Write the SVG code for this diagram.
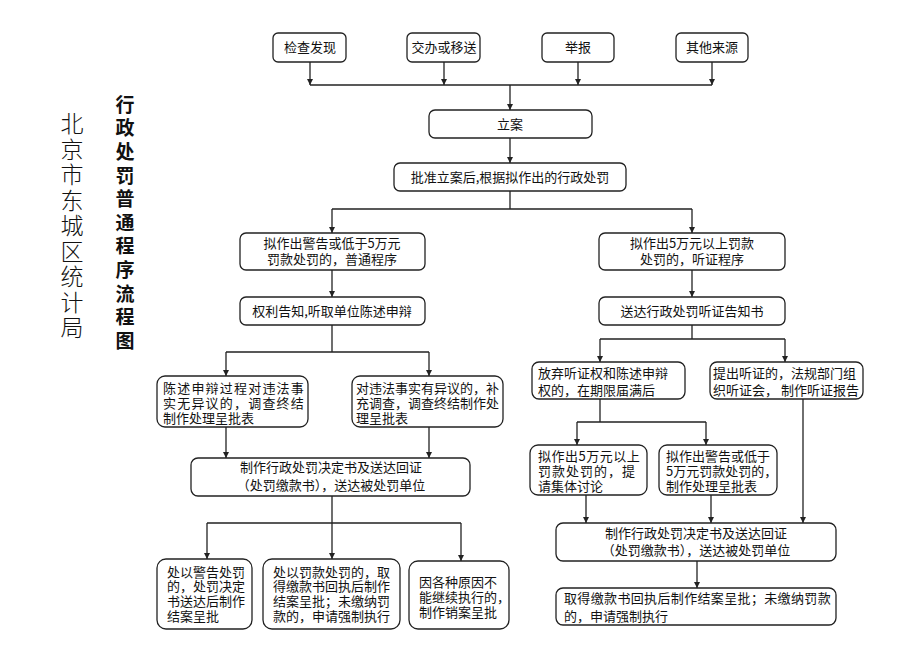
<svg xmlns="http://www.w3.org/2000/svg" width="900" height="653" viewBox="0 0 900 653">
<style>
.bg{fill:#fff}
.box{fill:#fff;stroke:#222;stroke-width:1.3}
.t{font-family:"Noto Sans CJK SC","Noto Sans",sans-serif;font-size:13px;fill:#111}
.c{text-anchor:middle}
.ln{fill:none;stroke:#222;stroke-width:1.3}
.ar{fill:none;stroke:#222;stroke-width:1.3;marker-end:url(#ah)}
.title1{font-family:"Noto Sans CJK SC",sans-serif;font-size:23px;fill:#111;font-weight:300;writing-mode:vertical-rl;letter-spacing:2.5px}
.title2{font-family:"Noto Sans CJK SC",sans-serif;font-size:19px;fill:#111;font-weight:bold;writing-mode:vertical-rl;letter-spacing:4.6px}
</style>
<defs>
<marker id="ah" viewBox="0 0 8 8" refX="8" refY="4" markerWidth="6" markerHeight="6" markerUnits="userSpaceOnUse" orient="auto">
<path d="M0,0 L8,4 L0,8 z" fill="#222"/>
</marker>
</defs>
<rect class="bg" x="0" y="0" width="900" height="653"/>

<g id="title-bureau">
<text class="title1" x="72" y="112">北京市东城区统计局</text>
</g>
<g id="title-flow">
<text class="title2" x="125" y="95">行政处罚普通程序流程图</text>
</g>

<g id="connectors">
<path class="ar" d="M310,62 V85"/>
<path class="ar" d="M444,62 V85"/>
<path class="ar" d="M578,62 V85"/>
<path class="ar" d="M712,62 V85"/>
<path class="ln" d="M310,85 H712"/>
<path class="ar" d="M510,85 V110"/>
<path class="ar" d="M510,138 V163"/>
<path class="ln" d="M510,191 V209 M332,209 H692"/>
<path class="ar" d="M332,209 V233"/>
<path class="ar" d="M692,209 V233"/>
<path class="ar" d="M332,270 V297"/>
<path class="ar" d="M692,270 V297"/>
<path class="ln" d="M332,325 V352 M226,352 H429"/>
<path class="ar" d="M226,352 V376"/>
<path class="ar" d="M429,352 V376"/>
<path class="ar" d="M226,427 V458"/>
<path class="ar" d="M429,427 V458"/>
<path class="ln" d="M332,496 V523 M207,523 H461"/>
<path class="ar" d="M207,523 V559"/>
<path class="ar" d="M332,523 V559"/>
<path class="ar" d="M461,523 V561"/>
<path class="ln" d="M692,325 V339 M600,339 H785"/>
<path class="ar" d="M600,339 V362"/>
<path class="ar" d="M785,339 V362"/>
<path class="ln" d="M600,399 V422 M577,422 H706"/>
<path class="ar" d="M577,422 V445"/>
<path class="ar" d="M706,422 V445"/>
<path class="ar" d="M586,495 V523"/>
<path class="ar" d="M711,495 V523"/>
<path class="ar" d="M803,399 V523"/>
<path class="ar" d="M697,561 V588"/>
</g>

<g id="n-jiancha"><rect class="box" x="273" y="33" width="73" height="29" rx="5"/><text class="t c" x="310" y="52">检查发现</text></g>
<g id="n-jiaoban"><rect class="box" x="407" y="33" width="73" height="29" rx="5"/><text class="t c" x="444" y="52">交办或移送</text></g>
<g id="n-jubao"><rect class="box" x="542" y="33" width="72" height="29" rx="5"/><text class="t c" x="578" y="52">举报</text></g>
<g id="n-qita"><rect class="box" x="676" y="33" width="72" height="29" rx="5"/><text class="t c" x="712" y="52">其他来源</text></g>
<g id="n-lian"><rect class="box" x="429" y="110" width="163" height="28" rx="6"/><text class="t c" x="510" y="129">立案</text></g>
<g id="n-pizhun"><rect class="box" x="394" y="163" width="232" height="28" rx="6"/><text class="t c" x="510" y="182">批准立案后,根据拟作出的行政处罚</text></g>

<g id="n-putong"><rect class="box" x="240" y="233" width="185" height="37" rx="6"/><text class="t c"><tspan x="332" y="248">拟作出警告或低于5万元</tspan><tspan x="332" y="264">罚款处罚的，普通程序</tspan></text></g>
<g id="n-tingzheng"><rect class="box" x="599" y="233" width="186" height="37" rx="6"/><text class="t c"><tspan x="692" y="248">拟作出5万元以上罚款</tspan><tspan x="692" y="264">处罚的，听证程序</tspan></text></g>
<g id="n-quanli"><rect class="box" x="240" y="297" width="185" height="28" rx="6"/><text class="t c" x="332" y="316">权利告知,听取单位陈述申辩</text></g>
<g id="n-songda"><rect class="box" x="599" y="297" width="186" height="28" rx="6"/><text class="t c" x="692" y="316">送达行政处罚听证告知书</text></g>

<g id="n-wuyiyi"><rect class="box" x="157" y="376" width="151" height="51" rx="8"/><text class="t"><tspan x="163" y="393" letter-spacing="1.2">陈述申辩过程对违法事</tspan><tspan x="163" y="408" letter-spacing="1.2">实无异议的，调查终结</tspan><tspan x="163" y="423">制作处理呈批表</tspan></text></g>
<g id="n-youyiyi"><rect class="box" x="352" y="376" width="151" height="51" rx="8"/><text class="t"><tspan x="356" y="393">对违法事实有异议的，补</tspan><tspan x="356" y="408">充调查，调查终结制作处</tspan><tspan x="356" y="423">理呈批表</tspan></text></g>
<g id="n-jueding1"><rect class="box" x="191" y="458" width="279" height="38" rx="7"/><text class="t c"><tspan x="331" y="472">制作行政处罚决定书及送达回证</tspan><tspan x="331" y="490">（处罚缴款书），送达被处罚单位</tspan></text></g>

<g id="n-jinggao"><rect class="box" x="157" y="559" width="95" height="70" rx="9"/><text class="t"><tspan x="167" y="577">处以警告处罚</tspan><tspan x="167" y="591">的，处罚决定</tspan><tspan x="167" y="606">书送达后制作</tspan><tspan x="167" y="621">结案呈批</tspan></text></g>
<g id="n-fakuan"><rect class="box" x="263" y="559" width="137" height="70" rx="9"/><text class="t"><tspan x="273" y="577">处以罚款处罚的，取</tspan><tspan x="273" y="591">得缴款书回执后制作</tspan><tspan x="273" y="606">结案呈批；未缴纳罚</tspan><tspan x="273" y="621">款的，申请强制执行</tspan></text></g>
<g id="n-xiaoan"><rect class="box" x="409" y="561" width="100" height="68" rx="9"/><text class="t"><tspan x="419" y="587">因各种原因不</tspan><tspan x="419" y="602">能继续执行的，</tspan><tspan x="419" y="617">制作销案呈批</tspan></text></g>

<g id="n-fangqi"><rect class="box" x="532" y="362" width="153" height="37" rx="7"/><text class="t"><tspan x="538" y="378">放弃听证权和陈述申辩</tspan><tspan x="538" y="395">权的，在期限届满后</tspan></text></g>
<g id="n-tichu"><rect class="box" x="710" y="362" width="153" height="37" rx="7"/><text class="t"><tspan x="713" y="378">提出听证的，法规部门组</tspan><tspan x="713" y="395">织听证会， 制作听证报告</tspan></text></g>
<g id="n-jiti"><rect class="box" x="530" y="445" width="117" height="50" rx="8"/><text class="t"><tspan x="538" y="461" letter-spacing="0.5">拟作出5万元以上</tspan><tspan x="538" y="476" letter-spacing="1">罚款处罚的，提</tspan><tspan x="538" y="491">请集体讨论</tspan></text></g>
<g id="n-chengpi"><rect class="box" x="659" y="445" width="118" height="50" rx="8"/><text class="t"><tspan x="666" y="461">拟作出警告或低于</tspan><tspan x="666" y="476">5万元罚款处罚的，</tspan><tspan x="666" y="491">制作处理呈批表</tspan></text></g>
<g id="n-jueding2"><rect class="box" x="556" y="523" width="280" height="38" rx="7"/><text class="t c"><tspan x="696" y="538">制作行政处罚决定书及送达回证</tspan><tspan x="696" y="555">（处罚缴款书），送达被处罚单位</tspan></text></g>
<g id="n-zhixing"><rect class="box" x="556" y="588" width="280" height="37" rx="7"/><text class="t"><tspan x="564" y="603" letter-spacing="0.35">取得缴款书回执后制作结案呈批；未缴纳罚款</tspan><tspan x="564" y="621">的，申请强制执行</tspan></text></g>
</svg>
